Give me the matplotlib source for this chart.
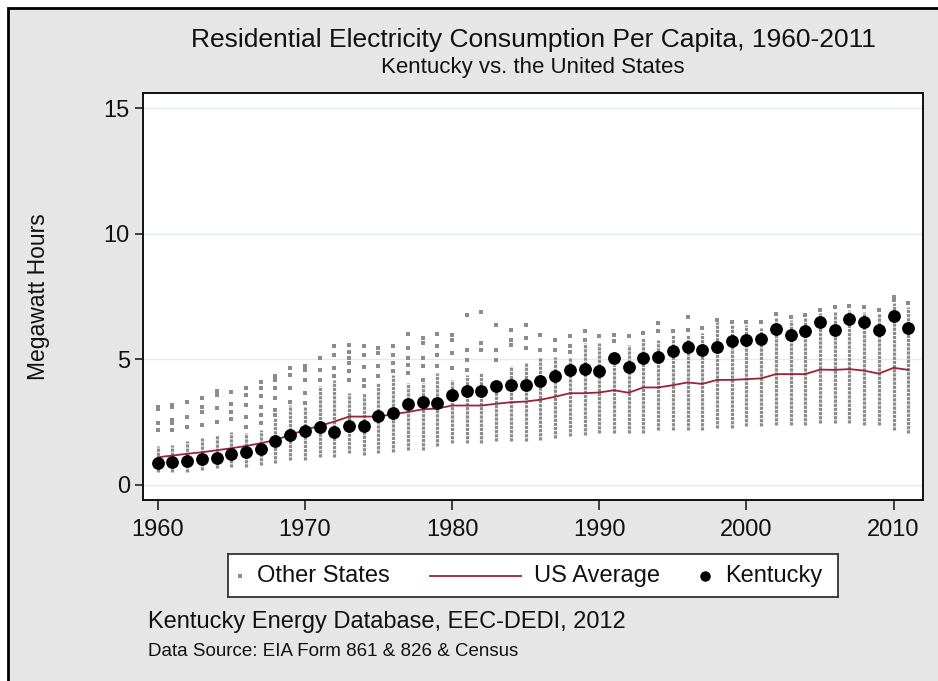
import matplotlib
matplotlib.use("Agg")
import matplotlib.pyplot as plt
from matplotlib.patches import Rectangle

plt.rcParams['font.family'] = ['Liberation Sans', 'DejaVu Sans']

# ---------------- data ----------------
years = list(range(1960, 2012))

kentucky = [0.89, 0.93, 0.96, 1.04, 1.09, 1.24, 1.31, 1.42, 1.73, 1.99,
            2.16, 2.30, 2.12, 2.36, 2.36, 2.76, 2.86, 3.21, 3.32, 3.27,
            3.56, 3.73, 3.73, 3.93, 3.98, 3.96, 4.14, 4.35, 4.57, 4.62,
            4.52, 5.05, 4.71, 5.07, 5.09, 5.34, 5.48, 5.38, 5.48, 5.74,
            5.78, 5.80, 6.20, 5.98, 6.11, 6.47, 6.18, 6.60, 6.48, 6.16,
            6.73, 6.24]

us_average = [1.10, 1.17, 1.24, 1.30, 1.38, 1.46, 1.55, 1.66, 1.79, 1.99,
              2.19, 2.35, 2.52, 2.72, 2.72, 2.72, 2.82, 2.90, 3.01, 3.04,
              3.16, 3.16, 3.16, 3.23, 3.29, 3.32, 3.39, 3.51, 3.65, 3.65,
              3.68, 3.77, 3.67, 3.88, 3.88, 3.97, 4.08, 4.02, 4.18, 4.18,
              4.21, 4.24, 4.41, 4.41, 4.41, 4.59, 4.58, 4.61, 4.55, 4.43,
              4.66, 4.58]

# dense range of the other states (lowest .. top of the packed column)
others_low = [0.53, 0.53, 0.53, 0.60, 0.67, 0.73, 0.73, 0.80, 0.89, 1.00,
              1.00, 1.13, 1.13, 1.29, 1.20, 1.27, 1.33, 1.39, 1.39, 1.53,
              1.66, 1.66, 1.66, 1.73, 1.73, 1.73, 1.79, 1.86, 1.93, 1.99,
              2.06, 2.08, 2.06, 2.06, 2.20, 2.20, 2.20, 2.20, 2.26, 2.26,
              2.33, 2.33, 2.39, 2.39, 2.39, 2.46, 2.46, 2.46, 2.39, 2.39,
              2.20, 2.06]
others_high = [1.55, 1.59, 1.73, 1.86, 1.99, 2.12, 2.06, 2.19, 2.66, 3.19,
               3.12, 3.92, 4.18, 3.65, 3.65, 4.05, 4.39, 4.05, 4.05, 4.45,
               4.18, 4.39, 4.45, 4.12, 4.72, 4.85, 5.11, 5.11, 5.11, 5.64,
               5.64, 4.78, 5.58, 5.85, 5.78, 5.98, 5.98, 6.04, 6.50, 6.37,
               6.37, 6.24, 6.70, 6.57, 6.64, 6.84, 6.90, 6.97, 6.90, 6.84,
               7.24, 7.10]
# isolated states above the packed column
others_outliers = [
    [2.20, 2.45, 3.02, 3.12], [2.20, 2.45, 2.60, 3.12, 3.20], [2.32, 2.72, 3.30],
    [2.39, 2.92, 3.12, 3.45], [2.52, 3.08, 3.58, 3.72], [2.62, 2.92, 3.23, 3.69],
    [2.32, 2.72, 3.19, 3.58, 3.85], [2.45, 2.79, 3.12, 3.52, 3.85, 4.08],
    [2.79, 2.99, 3.45, 3.85, 4.18, 4.32], [3.32, 3.85, 4.38, 4.65],
    [3.25, 3.65, 4.18, 4.58, 4.74], [4.18, 4.58, 5.05], [4.32, 4.65, 5.18, 5.51],
    [4.18, 4.52, 4.85, 5.05, 5.31, 5.55], [3.92, 4.18, 4.69, 5.18, 5.51],
    [4.32, 4.72, 5.25, 5.45], [4.52, 4.85, 5.18, 5.51], [4.45, 4.78, 5.05, 5.45, 6.02],
    [4.18, 4.72, 5.05, 5.64, 5.84], [4.72, 5.18, 5.51, 6.00], [4.65, 5.25, 5.78, 5.98],
    [4.58, 4.98, 5.38, 6.75], [5.38, 5.64, 6.87], [4.98, 5.38, 6.35],
    [5.58, 5.78, 6.18], [5.45, 5.84, 6.38], [5.38, 5.98], [5.38, 5.75],
    [5.31, 5.51, 5.91], [5.78, 6.11], [5.91], [5.71, 5.98], [5.91], [6.04],
    [6.11, 6.44], [6.11], [6.18, 6.70], [6.24], [6.57], [6.50], [6.50], [6.47],
    [6.80], [6.70], [6.77], [6.97], [7.10], [7.14], [7.10], [6.97], [7.37, 7.50],
    [7.24]]

legend_labels = ["Other States", "US Average", "Kentucky"]
y_ticks = [0, 5, 10, 15]
x_ticks = [1960, 1970, 1980, 1990, 2000, 2010]

# ---------------- figure ----------------
W, H = 938, 681
fig = plt.figure(figsize=(W / 100, H / 100), dpi=100, facecolor='white')
bg = Rectangle((8 / W, -0.05), 1.1, 1 - 8 / H + 0.05, transform=fig.transFigure,
               facecolor='#e6e6e6', edgecolor='black', linewidth=2.0, zorder=-10)
fig.patches.append(bg)

ax = fig.add_axes([143 / W, 1 - 500 / H, (923 - 143) / W, (500 - 93) / H])
ax.set_facecolor('white')

grey = '#8c8c8c'
ax.vlines(years, others_low, others_high, colors=grey, linewidth=2.3,
          linestyles=[(0, (1.0, 0.3))], zorder=2)
ox, oy = [], []
for yr, vals in zip(years, others_outliers):
    for v in vals:
        ox.append(yr)
        oy.append(v)
ax.plot(ox, oy, linestyle='none', marker='s', markersize=2.3, color=grey,
        markeredgewidth=0, zorder=2)
ax.plot(years, us_average, color='#9b2335', linewidth=1.3, zorder=3)
ax.plot(years, kentucky, linestyle='none', marker='o', markersize=8.2,
        color='black', zorder=4)

ax.set_xlim(1959, 2012)
ax.set_ylim(-0.6, 15.6)
ax.set_xticks(x_ticks)
ax.set_yticks(y_ticks)
ax.grid(axis='y', color='#e2ecea', linewidth=1.0, zorder=0)
ax.set_axisbelow(True)
for s in ax.spines.values():
    s.set_linewidth(1.4)
    s.set_color('#111111')
ax.tick_params(axis='x', length=7.5, width=1.1, pad=6, labelsize=17,
               colors='#111111')
ax.tick_params(axis='y', length=6, width=1.1, pad=3.5, labelsize=17,
               colors='#111111')

txt = '#111111'
fig.text(533 / W, 1 - 40 / H, "Residential Electricity Consumption Per Capita, 1960-2011",
         ha='center', va='center', fontsize=19, color=txt)
fig.text(533 / W, 1 - 67 / H, "Kentucky vs. the United States",
         ha='center', va='center', fontsize=16, color=txt)
fig.text(38 / W, 1 - 297 / H, "Megawatt Hours", rotation=90,
         ha='center', va='center', fontsize=16.5, color=txt)
fig.text(148 / W, 1 - 622 / H, "Kentucky Energy Database, EEC-DEDI, 2012",
         ha='left', va='center', fontsize=17, color=txt)
fig.text(148 / W, 1 - 652 / H, "Data Source: EIA Form 861 & 826 & Census",
         ha='left', va='center', fontsize=13.5, color=txt)

# ---------------- legend (manual box) ----------------
lx0, lx1, ly0, ly1 = 228, 838, 554, 597
lax = fig.add_axes([lx0 / W, 1 - ly1 / H, (lx1 - lx0) / W, (ly1 - ly0) / H])
lax.set_xlim(lx0, lx1)
lax.set_ylim(ly1, ly0)
lax.set_xticks([])
lax.set_yticks([])
lax.set_facecolor('white')
for s in lax.spines.values():
    s.set_linewidth(1.3)
    s.set_color('#333333')
yc = 576
lax.plot([240], [yc], linestyle='none', marker='s', markersize=2.3, color=grey,
         markeredgewidth=0)
lax.text(257, yc, legend_labels[0], ha='left', va='center', fontsize=17, color=txt)
lax.plot([430, 521], [yc, yc], color='#9b2335', linewidth=1.3)
lax.text(534, yc, legend_labels[1], ha='left', va='center', fontsize=17, color=txt)
lax.plot([705], [yc], linestyle='none', marker='o', markersize=6.5, color='black')
lax.text(725, yc, legend_labels[2], ha='left', va='center', fontsize=17, color=txt)

fig.savefig("out.png", dpi=100, facecolor='white')
